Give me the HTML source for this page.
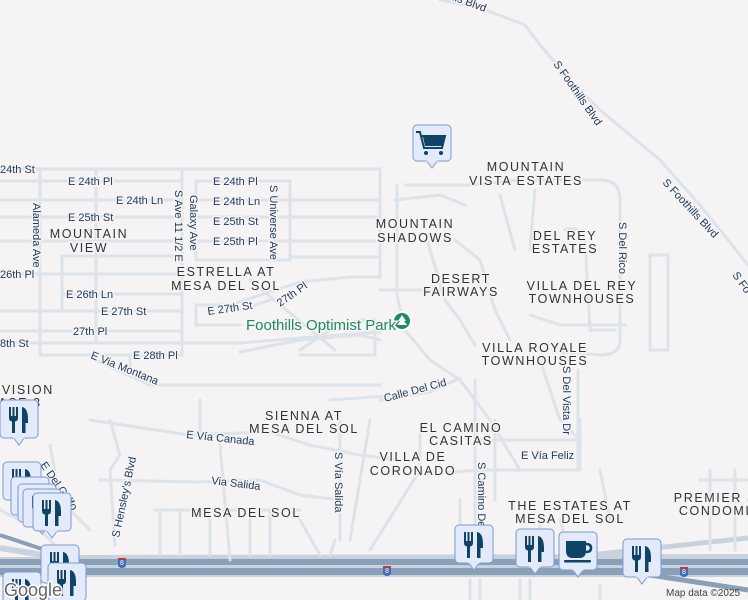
<!DOCTYPE html>
<html><head><meta charset="utf-8"><style>
html,body{margin:0;padding:0;background:#f5f3f3;}
svg{display:block;}
.r{fill:none;stroke:#dde3ea;stroke-width:3;stroke-linecap:round;stroke-linejoin:round}
.s{font-family:"Liberation Sans",sans-serif;font-size:11px;fill:#1e3a5c;paint-order:stroke;stroke:#f5f3f3;stroke-width:3px}
.a{font-family:"Liberation Sans",sans-serif;font-size:12.5px;fill:#333;letter-spacing:1.6px;text-anchor:middle;paint-order:stroke;stroke:#f5f3f3;stroke-width:3px}
</style></head><body>
<svg width="748" height="600" viewBox="0 0 748 600" xmlns="http://www.w3.org/2000/svg">
<defs>
<g id="rest">
 <path d="M13 37 L19 45 L25 37" fill="#e3ebfa" stroke="#7a9ad6" stroke-width="1"/>
 <rect x="0" y="0" width="38" height="38" rx="4" fill="#e3ebfa" stroke="#7a9ad6" stroke-width="1"/>
 <path d="M13.5 37.5 L24.5 37.5" stroke="#e3ebfa" stroke-width="2"/>
 <path fill="#0f4466" d="M9 7h2v9h1.5V7h2v9H16V7h2v11q0 3-3 3.5V33h-3V21.5q-3-.5-3-3.5z"/>
 <path fill="#0f4466" d="M22 33V7q6 1 6 12v4h-2.5v10z"/>
</g>
</defs>
<!-- highways -->
<path d="M0 548 L60 558 L748 557" stroke="#c9d3de" stroke-width="6" fill="none"/>
<rect x="0" y="557" width="748" height="20" fill="#c8d2dd"/>
<rect x="0" y="559" width="748" height="6" fill="#8aa0b8"/>
<rect x="0" y="568" width="748" height="7" fill="#8aa0b8"/>
<path d="M590 555 L748 538" stroke="#c8d2dd" stroke-width="5" fill="none"/>
<path d="M650 575 L748 590" stroke="#8aa0b8" stroke-width="5" fill="none"/>
<path d="M0 535 L60 555" stroke="#8aa0b8" stroke-width="4" fill="none"/>
<!-- Foothills Blvd -->
<path class="r" d="M440 0 L480 8 L525 25 L540 45 L570 80 L600 110 L660 160 L700 205 L748 265"/>
<!-- grid left -->
<g class="r">
<path d="M0 169 H380 V275"/>
<path d="M0 181 H182"/><path d="M196 181 H290"/>
<path d="M0 200 H182"/><path d="M196 200 H290"/><path d="M290 200 H380"/>
<path d="M0 217 H182"/><path d="M196 217 H290"/><path d="M290 217 H380"/>
<path d="M0 241 H182"/><path d="M196 241 H290"/><path d="M290 241 H380"/>
<path d="M290 257 H380"/>
<path d="M62 256 H182"/>
<path d="M0 274 H182"/>
<path d="M62 294 H182"/>
<path d="M0 311 H182"/>
<path d="M0 331 H182"/>
<path d="M0 343 H240 L300 338 L380 332"/>
<path d="M40 169 V355 H182"/>
<path d="M96 169 V343"/>
<path d="M62 256 V311"/>
<path d="M182 169 V355"/>
<path d="M196 181 H290 V260 H196 V181"/>
<path d="M196 305 H230 L270 292 L300 282 L350 277 H380"/>
<path d="M196 305 V325 H240"/>
<path d="M240 310 L270 300 M250 280 L335 350"/>
<path d="M240 352 L300 340 L360 335 L380 340"/>
<path d="M300 350 L330 330 L360 320 H375 V355 H300"/>
<path d="M95 360 L150 385 H380"/>
<path d="M130 355 V366"/>
</g>
<!-- center/right roads -->
<g class="r">
<path d="M397 185 V295 L405 330 L430 360 L460 380 L490 420 L520 470"/>
<path d="M405 185 H470 L520 180 H600 Q620 180 620 200 V340 Q620 355 600 355 L560 352"/>
<path d="M395 200 L440 195 L465 205"/>
<path d="M380 290 H420 L460 290"/>
<path d="M427 240 L445 300 L460 320 L475 345"/>
<path d="M455 240 L480 260 L495 310 L510 340"/>
<path d="M500 195 L515 250 M535 190 L530 250"/>
<path d="M565 230 Q580 225 585 240 L590 330 L615 330"/>
<path d="M530 315 L560 325 L625 325"/>
<path d="M540 360 L560 420 L580 440"/>
<path d="M380 400 L430 392 L460 378"/>
<path d="M330 400 L400 395"/>
<path d="M90 420 L190 435 L270 432 L310 445 L360 455 L400 460"/>
<path d="M100 480 L200 482 L260 480 L300 495 L340 500"/>
<path d="M340 420 V540"/>
<path d="M370 420 L350 540"/>
<path d="M420 430 V470 L370 550"/>
<path d="M415 475 L480 470 L580 470 V420"/>
<path d="M480 440 H580"/>
<path d="M475 380 V560"/>
<path d="M495 420 V500"/>
<path d="M578 370 V470"/>
<path d="M600 470 L610 520"/>
<path d="M650 255 H668 V350 H650 Z"/>
<path d="M710 470 V550 M735 470 V550 M700 480 H748"/>
<path d="M110 420 L120 455 L110 470 L115 545"/>
<path d="M50 445 L60 500 L90 530"/>
<path d="M0 510 L40 530 L70 560"/>
<path d="M200 400 V440 M220 445 L230 560"/>
<path d="M155 510 H300 M160 510 V555 M180 510 V555 M210 510 V555 M250 510 V555 M270 510 V555"/>
<path d="M300 520 L320 555 M335 540 L330 555"/>
<path d="M460 500 V555 M540 520 V555 M560 520 L570 555"/>
<path d="M470 580 V600 M480 580 V600 M520 580 V600 M530 580 V600 M600 585 V600"/>
</g>
<!-- park marker -->
<circle cx="402" cy="321" r="9" fill="#1e8a66" stroke="#fff" stroke-width="2"/>
<path d="M402 315 l4 6 h-2 l3 4 h-10 l3-4 h-2z" fill="#fff"/>
<text x="246" y="330" font-family="Liberation Sans,sans-serif" font-size="15" fill="#1e8a66" style="paint-order:stroke;stroke:#f5f3f3;stroke-width:3px">Foothills Optimist Park</text>
<!-- street labels -->
<text class="s" x="0" y="173">24th St</text>
<text class="s" x="68" y="185">E 24th Pl</text>
<text class="s" x="116" y="204">E 24th Ln</text>
<text class="s" x="68" y="221">E 25th St</text>
<text class="s" x="0" y="278">26th Pl</text>
<text class="s" x="66" y="298">E 26th Ln</text>
<text class="s" x="101" y="315">E 27th St</text>
<text class="s" x="73" y="335">27th Pl</text>
<text class="s" x="0" y="347">8th St</text>
<text class="s" x="133" y="359">E 28th Pl</text>
<text class="s" x="213" y="185">E 24th Pl</text>
<text class="s" x="213" y="205">E 24th Ln</text>
<text class="s" x="213" y="225">E 25th St</text>
<text class="s" x="213" y="245">E 25th Pl</text>
<text class="s" x="208" y="315" transform="rotate(-8 208 315)">E 27th St</text>
<text class="s" x="280" y="307" transform="rotate(-35 280 307)">27th Pl</text>
<text class="s" transform="translate(33 203) rotate(90)">Alameda Ave</text>
<text class="s" transform="translate(175 190) rotate(90)">S Ave 11 1/2 E</text>
<text class="s" transform="translate(190 195) rotate(90)">Galaxy Ave</text>
<text class="s" transform="translate(270 185) rotate(90)">S Universe Ave</text>
<text class="s" transform="translate(90 358) rotate(22)">E Via Montana</text>
<text class="s" transform="translate(385 402) rotate(-15)">Calle Del Cid</text>
<text class="s" transform="translate(186 438) rotate(6)">E Vía Canada</text>
<text class="s" transform="translate(211 484) rotate(7)">Via Salida</text>
<text class="s" transform="translate(335 452) rotate(90)">S Vía Salida</text>
<text class="s" transform="translate(119 538) rotate(-78)">S Hensley's Blvd</text>
<text class="s" transform="translate(40 465) rotate(55)">E Del Golfo</text>
<text class="s" transform="translate(478 462) rotate(90)">S Camino De</text>
<text class="s" x="521" y="459">E Vía Feliz</text>
<text class="s" transform="translate(563 366) rotate(90)">S Del Vista Dr</text>
<text class="s" transform="translate(619 222) rotate(90)">S Del Rico</text>
<text class="s" transform="translate(553 64) rotate(55)">S Foothills Blvd</text>
<text class="s" transform="translate(662 183) rotate(47)">S Foothills Blvd</text>
<text class="s" transform="translate(732 275) rotate(55)">S Fo</text>
<text class="s" transform="translate(452 0) rotate(20)">lls Blvd</text>
<!-- area labels -->
<text class="a" x="89" y="238">MOUNTAIN</text>
<text class="a" x="89" y="252">VIEW</text>
<text class="a" x="226" y="276">ESTRELLA AT</text>
<text class="a" x="226" y="290">MESA DEL SOL</text>
<text class="a" x="415" y="228">MOUNTAIN</text>
<text class="a" x="415" y="242">SHADOWS</text>
<text class="a" x="526" y="171">MOUNTAIN</text>
<text class="a" x="526" y="185">VISTA ESTATES</text>
<text class="a" x="565" y="240">DEL REY</text>
<text class="a" x="565" y="253">ESTATES</text>
<text class="a" x="461" y="283">DESERT</text>
<text class="a" x="461" y="296">FAIRWAYS</text>
<text class="a" x="582" y="290">VILLA DEL REY</text>
<text class="a" x="582" y="303">TOWNHOUSES</text>
<text class="a" x="535" y="352">VILLA ROYALE</text>
<text class="a" x="535" y="365">TOWNHOUSES</text>
<text class="a" x="304" y="420">SIENNA AT</text>
<text class="a" x="304" y="433">MESA DEL SOL</text>
<text class="a" x="461" y="432">EL CAMINO</text>
<text class="a" x="461" y="445">CASITAS</text>
<text class="a" x="413" y="461">VILLA DE</text>
<text class="a" x="413" y="475">CORONADO</text>
<text class="a" x="246" y="517">MESA DEL SOL</text>
<text class="a" x="570" y="510">THE ESTATES AT</text>
<text class="a" x="570" y="523">MESA DEL SOL</text>
<text class="a" x="720" y="502">PREMIER ST</text>
<text class="a" x="720" y="515">CONDOMIN</text>
<text class="a" x="20" y="394">DIVISION</text>
<text class="a" x="20" y="407">ASE 3</text>
<!-- interstate shields -->
<g font-family="Liberation Sans,sans-serif" font-size="7" fill="#fff" text-anchor="middle">
<path d="M118 559 h8 v7 q-4 4-8 0z" fill="#3b6fb6"/><rect x="118" y="558" width="8" height="2" fill="#c33"/><text x="122" y="565">8</text>
<path d="M383 567 h8 v7 q-4 4-8 0z" fill="#3b6fb6"/><rect x="383" y="566" width="8" height="2" fill="#c33"/><text x="387" y="573">8</text>
<path d="M680 568 h8 v7 q-4 4-8 0z" fill="#3b6fb6"/><rect x="680" y="567" width="8" height="2" fill="#c33"/><text x="684" y="574">8</text>
</g>
<!-- pins -->
<use href="#rest" x="0" y="400"/>
<use href="#rest" x="3" y="462"/>
<use href="#rest" x="11" y="477"/>
<use href="#rest" x="18" y="484"/>
<use href="#rest" x="23" y="489"/>
<use href="#rest" x="33" y="493"/>
<use href="#rest" x="41" y="545"/>
<use href="#rest" x="48" y="563"/>
<use href="#rest" x="3" y="572"/>
<use href="#rest" x="455" y="525"/>
<use href="#rest" x="516" y="529"/>
<use href="#rest" x="623" y="539"/>
<g transform="translate(559 532)">
 <path d="M13 37 L19 45 L25 37" fill="#e3ebfa" stroke="#7a9ad6"/>
 <rect x="0" y="0" width="38" height="38" rx="4" fill="#e3ebfa" stroke="#7a9ad6"/>
 <path d="M13.5 37.5 L24.5 37.5" stroke="#e3ebfa" stroke-width="2"/>
 <path fill="#0f4466" d="M7 9h20v10q0 7-7 7h-6q-7 0-7-7z"/>
 <path d="M27 12q5 0 5 4t-5 4" fill="none" stroke="#0f4466" stroke-width="2.5"/>
 <rect fill="#0f4466" x="5" y="28" width="27" height="2.5" rx="1"/>
</g>
<g transform="translate(413 125)">
 <path d="M13 35 L19 43 L25 35" fill="#e3ebfa" stroke="#7a9ad6"/>
 <rect x="0" y="0" width="38" height="36" rx="4" fill="#e3ebfa" stroke="#7a9ad6"/>
 <path d="M13.5 35.5 L24.5 35.5" stroke="#e3ebfa" stroke-width="2"/>
 <path d="M3 7h4l4 16h18l3-12H9" fill="none" stroke="#0f4466" stroke-width="2"/>
 <path fill="#0f4466" d="M10 12h21l-2 9H12z"/>
 <circle fill="#0f4466" cx="13" cy="28" r="2"/><circle fill="#0f4466" cx="28" cy="28" r="2"/>
</g>
<text x="4" y="596" font-family="Liberation Sans,sans-serif" font-size="18" fill="#666" style="paint-order:stroke;stroke:#fff;stroke-width:3px">Google</text>
<text x="666" y="596" font-family="Liberation Sans,sans-serif" font-size="10" fill="#444">Map data ©2025</text>
</svg>
</body></html>
